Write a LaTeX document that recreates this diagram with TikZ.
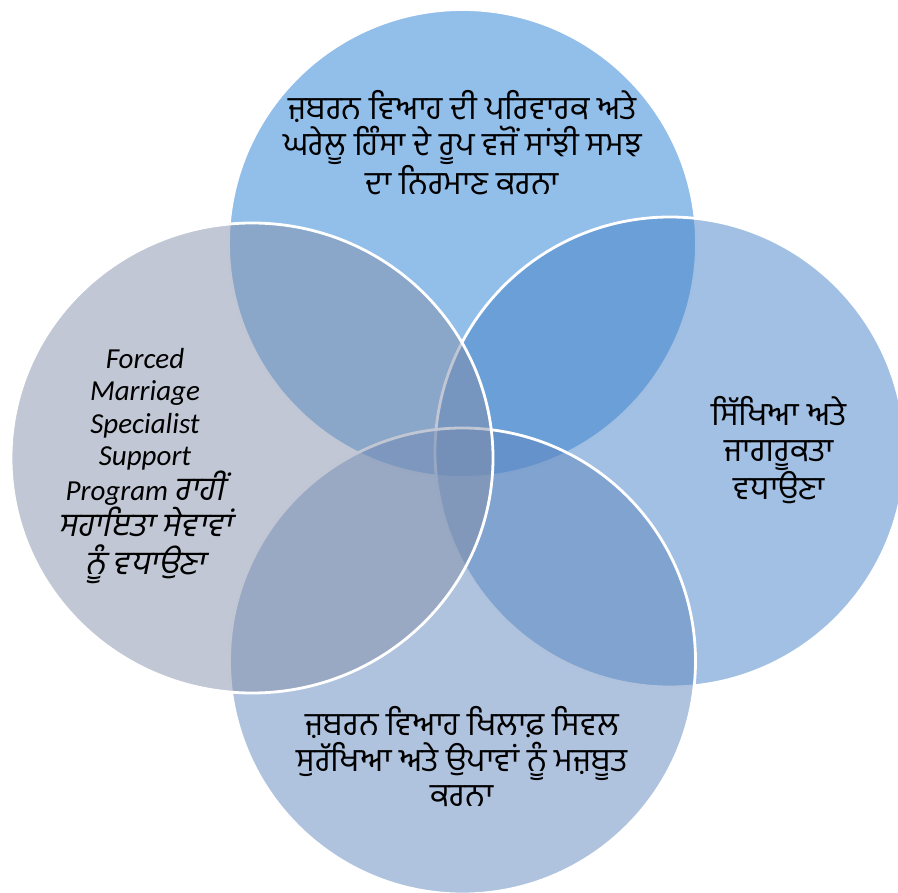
\documentclass[tikz,border=0pt]{standalone}
\usepackage{fontspec}
\newfontfamily\gur[Script=Gurmukhi]{Hind Jalandhar}
\newfontfamily\gursl[Script=Gurmukhi,FakeSlant=0.2]{Hind Jalandhar}
\newfontfamily\carl{Carlito}
\definecolor{ctop}{RGB}{37,125,213}
\definecolor{cright}{RGB}{69,129,199}
\definecolor{cbottom}{RGB}{97,135,189}
\definecolor{cleft}{RGB}{131,143,169}
\newcommand{\gsl}[1]{{\gursl\upshape\fontsize{33}{32.5}\selectfont #1}}
\begin{document}
\begin{tikzpicture}[x=1pt,y=-1pt,
  venn/.style={fill opacity=0.5, draw=white, line width=2.8pt},
  ptext/.style={font=\gur\fontsize{32.5}{35.5}\selectfont, align=center, text=black, inner sep=0pt},
  ltext/.style={font=\carl\itshape\fontsize{29}{32.5}\selectfont, align=center, text=black, inner sep=0pt}]
\useasboundingbox (0,0) rectangle (898,893);
\clip (0,0) rectangle (898,893);
\path[venn, fill=ctop] (462.5,243.5) circle[radius=234pt];
\path[venn, fill=cright] (670,452) circle[radius=235pt];
\path[venn, fill=cbottom] (462.5,661) circle[radius=233pt];
\path[venn, fill=cleft] (252,458) ellipse[x radius=241pt, y radius=235pt];
\node[ptext] (ttop) at (462.5,143) {ਜ਼ਬਰਨ ਵਿਆਹ ਦੀ ਪਰਿਵਾਰਕ ਅਤੇ\\ਘਰੇਲੂ ਹਿੰਸਾ ਦੇ ਰੂਪ ਵਜੋਂ ਸਾਂਝੀ ਸਮਝ\\ਦਾ ਨਿਰਮਾਣ ਕਰਨਾ};
\node[ptext] (tright) at (779,450) {ਸਿੱਖਿਆ ਅਤੇ\\ਜਾਗਰੂਕਤਾ\\ਵਧਾਉਣਾ};
\node[ptext] (tbottom) at (462,757) {ਜ਼ਬਰਨ ਵਿਆਹ ਖਿਲਾਫ਼ ਸਿਵਲ\\ਸੁਰੱਖਿਆ ਅਤੇ ਉਪਾਵਾਂ ਨੂੰ ਮਜ਼ਬੂਤ\\ਕਰਨਾ};
\node[ltext] (tleft) at (145,466) {Forced\\Marriage\\Specialist\\Support\\Program \gsl{ਰਾਹੀਂ}\\\gsl{ਸਹਾਇਤਾ ਸੇਵਾਵਾਂ}\\[6pt]\gsl{ਨੂੰ ਵਧਾਉਣਾ}};
\end{tikzpicture}
\end{document}
